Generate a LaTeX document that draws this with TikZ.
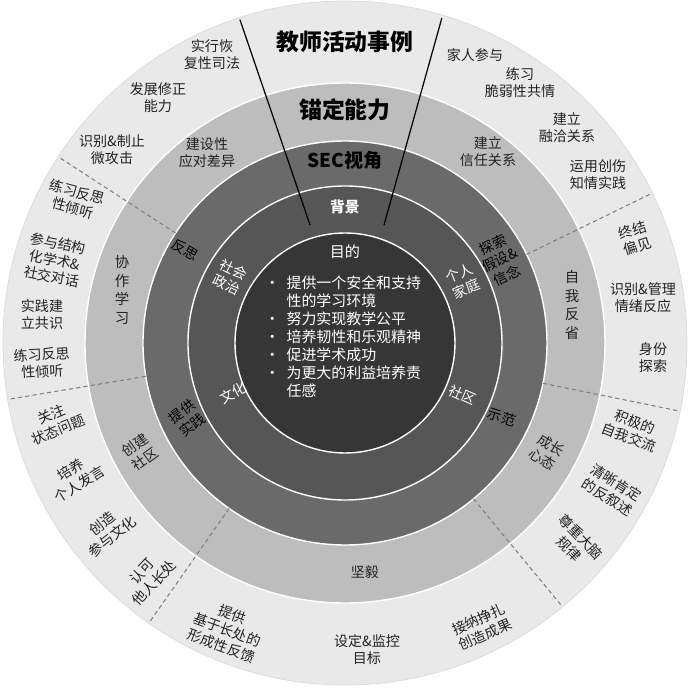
\documentclass[tikz,border=0pt]{standalone}
\usepackage{fontspec}
\setmainfont{Noto Sans CJK SC}

\newcommand*{\rgoal}{110}
\newcommand*{\rcontext}{157}
\newcommand*{\rlens}{202}
\newcommand*{\ranchor}{260}
\newcommand*{\rcase}{342}

\definecolor{casegray}{HTML}{E9E9E9}
\definecolor{anchorgray}{HTML}{BDBDBD}
\definecolor{lensgray}{HTML}{6A6A6A}
\definecolor{contextgray}{HTML}{565656}
\definecolor{goalgray}{HTML}{363636}
\definecolor{labelgray}{HTML}{222222}

\begin{document}
\begin{tikzpicture}
[
	x=0.02cm, y=0.02cm,
	ringedge/.style={draw=white,line width=0.8pt},
	divider/.style={draw=gray,dash pattern=on 2.4pt off 1.8pt,line width=0.6pt},
	spoke/.style={draw=black,line width=0.7pt},
	casetext/.style={text=labelgray,align=center,inner sep=0pt,font=\fontsize{8}{9.6}\selectfont},
	lenstext/.style={casetext,text=black},
	contexttext/.style={casetext,text=white},
	columntext/.style={casetext,font=\fontsize{8.2}{10.6}\selectfont},
	title/.style={inner sep=0pt,font=\bfseries\fontsize{13}{15}\selectfont}
]

	\useasboundingbox (-345,-347) rectangle (345,343);

	% rings
	\filldraw[fill=casegray,draw=gray!30] (0,0) circle (\rcase);
	\filldraw[fill=anchorgray,ringedge] (0,0) circle (\ranchor);
	\filldraw[fill=lensgray,ringedge] (0,0) circle (\rlens);
	\filldraw[fill=contextgray,ringedge] (0,0) circle (\rcontext);
	\filldraw[fill=goalgray,ringedge] (0,0) circle (\rgoal);

	% sector dividers
	\foreach \a in {26,147,189.5,235,309.5,348.5} {
		\draw[divider] (\a:\rlens) -- (\a:\rcase);
	}
	\draw[spoke] (106.5:123) -- (108:340);
	\draw[spoke] (71.7:124) -- (73.4:339);

	% titles
	\node[title] (cases) at (0,301) {教师活动事例};
	\node[title] (anchors) at (0,233) {锚定能力};
	\node[title,font=\bfseries\fontsize{10.8}{12}\selectfont] (lens) at (0,183) {SEC视角};
	\node[contexttext,font=\bfseries\fontsize{8.4}{9.6}\selectfont] (context) at (0,136) {背景};

	% purpose
	\node[contexttext,font=\fontsize{8.6}{10}\selectfont] (goal) at (0,91) {目的};
	\node[contexttext,align=left,font=\fontsize{8.5}{10.2}\selectfont] (goal-list) at (-2,4) {%
		\begin{tabular}{@{}l@{\hspace{0.45em}}l@{}}
		\textbullet & 提供一个安全和支持\\
		            & 性的学习环境\\
		\textbullet & 努力实现教学公平\\
		\textbullet & 培养韧性和乐观精神\\
		\textbullet & 促进学术成功\\
		\textbullet & 为更大的利益培养责\\
		            & 任感
		\end{tabular}};

	% context ring
	\node[contexttext,rotate=-25] (ctx-social) at (-115,66) {社会\\政治};
	\node[contexttext,rotate=23] (ctx-family) at (118,62) {个人\\家庭};
	\node[contexttext,rotate=28] (ctx-culture) at (-112,-50) {文化};
	\node[contexttext,rotate=-24] (ctx-community) at (118,-52) {社区};

	% lens ring
	\node[lenstext,rotate=-30] (lens-reflect) at (-160,93) {反思};
	\node[lenstext,rotate=25] (lens-explore) at (155,83) {探索\\假设\&\\信念};
	\node[lenstext,rotate=37] (lens-practice) at (-158,-75) {提供\\实践};
	\node[lenstext,rotate=-18] (lens-model) at (157,-74) {示范};

	% anchor ring
	\node[casetext] (anc-diff) at (-138,190) {建设性\\应对差异};
	\node[casetext] (anc-trust) at (143,191) {建立\\信任关系};
	\node[columntext] (anc-collab) at (-223,53) {协\\作\\学\\习};
	\node[columntext] (anc-self) at (227,38) {自\\我\\反\\省};
	\node[casetext,rotate=36] (anc-community) at (-205,-109) {创建\\社区};
	\node[casetext,rotate=-32] (anc-growth) at (202,-109) {成长\\心态};
	\node[casetext] (anc-grit) at (20,-229) {坚毅};

	% case ring, upper left
	\node[casetext] (case-justice) at (-133,288) {实行恢\\复性司法};
	\node[casetext] (case-repair) at (-187,245) {发展修正\\能力};
	\node[casetext] (case-micro) at (-233,193) {识别\&制止\\微攻击};

	% case ring, upper right
	\node[casetext] (case-family) at (130,288) {家人参与};
	\node[casetext] (case-empathy) at (175,260) {练习\\脆弱性共情};
	\node[casetext] (case-rapport) at (222,215) {建立\\融洽关系};
	\node[casetext] (case-trauma) at (253,168) {运用创伤\\知情实践};

	% case ring, left
	\node[casetext,rotate=-15] (case-listen) at (-270,143) {练习反思\\性倾听};
	\node[casetext,rotate=-11] (case-dialogue) at (-290,83) {参与结构\\化学术\&\\社交对话};
	\node[casetext] (case-consensus) at (-303,28) {实践建\\立共识};
	\node[casetext,rotate=3] (case-listen-b) at (-303,-20) {练习反思\\性倾听};

	% case ring, right
	\node[casetext,rotate=18] (case-bias) at (290,105) {终结\\偏见};
	\node[casetext] (case-emotion) at (298,45) {识别\&管理\\情绪反应};
	\node[casetext] (case-identity) at (308,-15) {身份\\探索};

	% case ring, lower left
	\node[casetext,rotate=23] (case-state) at (-290,-79) {关注\\状态问题};
	\node[casetext,rotate=32] (case-voice) at (-270,-134) {培养\\个人发言};
	\node[casetext,rotate=38] (case-culture) at (-238,-187) {创造\\参与文化};
	\node[casetext,rotate=47] (case-strength) at (-197,-234) {认可\\他人长处};

	% case ring, lower right
	\node[casetext,rotate=-21] (case-selftalk) at (287,-87) {积极的\\自我交流};
	\node[casetext,rotate=-32] (case-counter) at (267,-147) {清晰肯定\\的反叙述};
	\node[casetext,rotate=-46] (case-brain) at (230,-200) {尊重大脑\\规律};

	% case ring, bottom
	\node[casetext,rotate=-20] (case-feedback) at (-118,-287) {提供\\基于长处的\\形成性反馈};
	\node[casetext] (case-goals) at (22,-307) {设定\&监控\\目标};
	\node[casetext,rotate=24] (case-struggle) at (137,-284) {接纳挣扎\\创造成果};

\end{tikzpicture}
\end{document}
